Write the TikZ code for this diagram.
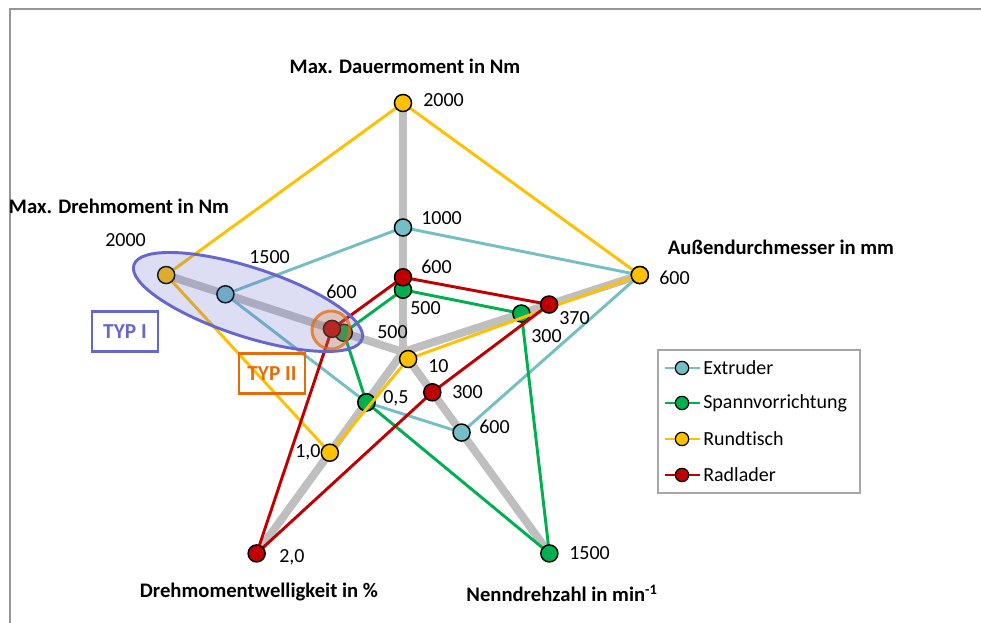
\documentclass[tikz,border=0pt]{standalone}
\usepackage{fontspec}
\setmainfont{Carlito}[Ligatures=NoCommon]
\usetikzlibrary{shapes.geometric}
\definecolor{ext}{RGB}{116,190,198}
\definecolor{spa}{RGB}{0,176,80}
\definecolor{rund}{RGB}{255,192,0}
\definecolor{rad}{RGB}{192,0,0}
\definecolor{axisgray}{RGB}{191,191,191}
\definecolor{typone}{RGB}{102,102,204}
\definecolor{typtwo}{RGB}{228,108,10}
\definecolor{framegray}{RGB}{150,150,150}
\definecolor{legendgray}{RGB}{166,166,166}
\begin{document}
\begin{tikzpicture}[x=0.75pt,y=0.75pt,
  axisline/.style={draw=axisgray,line width=6pt},
  series/.style={line width=2.2pt,line join=round},
  mk/.style={circle,draw=black,line width=1.1pt,minimum size=12.8pt,inner sep=0pt,fill=#1},
  legmk/.style={circle,draw=black,line width=0.9pt,minimum size=10pt,inner sep=0pt,fill=#1},
  val/.style={anchor=west,font=\fontsize{15}{18}\selectfont,inner sep=0pt},
  axlab/.style={font=\bfseries\fontsize{15.5}{18}\selectfont,inner sep=0pt},
  typbox/.style={draw=#1,text=#1,line width=2.2pt,minimum width=49.5pt,minimum height=29.5pt,inner sep=0pt,font=\bfseries\fontsize{16}{18}\selectfont}
]
\useasboundingbox (0,0) rectangle (981,623);
% frame
\draw[framegray,line width=1.5pt] (10,0) -- (10,614) -- (981,614);

\begin{scope}[shift={(403,271)}]
  \coordinate (O) at (0,0);
  \coordinate (A1) at (90:249);
  \coordinate (A2) at (18:249);
  \coordinate (A3) at (-54:249);
  \coordinate (A4) at (-126:249);
  \coordinate (A5) at (162:249);
  % Extruder
  \coordinate (E1) at (90:124.5);
  \coordinate (E2) at (18:249);
  \coordinate (E3) at (-54:99.6);
  \coordinate (E4) at (-126:62.25);
  \coordinate (E5) at (162:186.75);
  % Spannvorrichtung
  \coordinate (S1) at (90:62.25);
  \coordinate (S2) at (18:124.5);
  \coordinate (S3) at (-54:249);
  \coordinate (S4) at (-126:62.25);
  \coordinate (S5) at (162:62.25);
  % Rundtisch
  \coordinate (T1) at (90:249);
  \coordinate (T2) at (18:249);
  \coordinate (T3) at (-54:8.7);
  \coordinate (T4) at (-126:124.5);
  \coordinate (T5) at (162:249);
  % Radlader
  \coordinate (R1) at (90:74.7);
  \coordinate (R2) at (18:153.6);
  \coordinate (R3) at (-54:49.8);
  \coordinate (R4) at (-126:249);
  \coordinate (R5) at (162:74.7);
\end{scope}

% axes
\foreach \a in {A1,A2,A3,A4,A5} \draw[axisline] (O) -- (\a);

% series
\draw[series,ext] (E1) -- (E2) -- (E3) -- (E4) -- (E5) -- cycle;
\foreach \p in {1,...,5} \node[mk=ext] (mE\p) at (E\p) {};
\draw[series,spa] (S1) -- (S2) -- (S3) -- (S4) -- (S5) -- cycle;
\foreach \p in {1,...,5} \node[mk=spa] (mS\p) at (S\p) {};
\draw[series,rund] (T1) -- (T2) -- (T3) -- (T4) -- (T5) -- cycle;
\foreach \p in {1,...,5} \node[mk=rund] (mT\p) at (T\p) {};
\draw[series,rad] (R1) -- (R2) -- (R3) -- (R4) -- (R5) -- cycle;
\foreach \p in {1,...,5} \node[mk=rad] (mR\p) at (R\p) {};

% highlights
\node[ellipse,draw=typone,line width=2.2pt,fill=typone,fill opacity=0.22,draw opacity=1,
      minimum width=180pt,minimum height=51.75pt,inner sep=0pt,rotate=-18] (typIell) at (248,321) {};
\node[circle,draw=typtwo,draw opacity=0.75,line width=2.2pt,fill=typtwo,fill opacity=0.22,
      minimum size=28.5pt,inner sep=0pt] (typIIcirc) at (331,293) {};
\node[typbox=typone] (typI) at (125,291.5) {TYP I};
\node[typbox=typtwo] (typII) at (272,249.5) {TYP II};

% axis labels
\node[axlab] (l1) at (405,557) {Max. Dauermoment in Nm};
\node[axlab] (l5) at (119,417) {Max. Drehmoment in Nm};
\node[axlab] (l2) at (781,376) {Außendurchmesser in mm};
\node[axlab] (l4) at (259,31) {Drehmomentwelligkeit in \%};
\node[axlab] (l3) at (562,30) {Nenndrehzahl in min\textsuperscript{-1}};

% value labels
\node[val] (v1) at (423,523) {2000};
\node[val] (v2) at (421,405) {1000};
\node[val] (v3) at (421,356) {600};
\node[val] (v4) at (410,315) {500};
\node[val] (v5) at (377,291) {500};
\node[val] (v6) at (326,331) {600};
\node[val] (v7) at (249,366) {1500};
\node[val] (v8) at (105,383) {2000};
\node[val] (v9) at (659,345) {600};
\node[val] (v10) at (559,305) {370};
\node[val] (v11) at (531,287) {300};
\node[val] (v12) at (428,257) {10};
\node[val] (v13) at (452,231) {300};
\node[val] (v14) at (479,196) {600};
\node[val] (v15) at (569,70) {1500};
\node[val] (v16) at (383,225) {0,5};
\node[val] (v17) at (295,171) {1,0};
\node[val] (v18) at (279,66) {2,0};

% legend
\node[draw=legendgray,line width=1.5pt,minimum width=151.5pt,minimum height=107.25pt,inner sep=0pt] (legend) at (759,201.5) {};
\foreach \c/\t/\y/\n in {ext/Extruder/255/a,spa/Spannvorrichtung/220/b,rund/Rundtisch/184/c,rad/Radlader/148/d}{
  \coordinate (lgL\n) at (665,\y);
  \coordinate (lgR\n) at (700,\y);
  \draw[series,\c] (lgL\n) -- (lgR\n);
  \node[legmk=\c] (lgM\n) at (682,\y) {};
  \node[val] (lgT\n) at (703,\y) {\t};
}
\end{tikzpicture}
\end{document}
